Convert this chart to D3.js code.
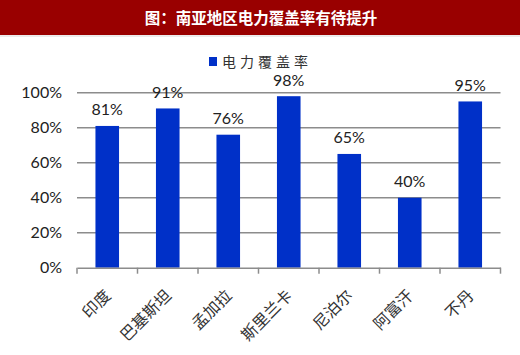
<!DOCTYPE html>
<html><head><meta charset="utf-8">
<script src="https://cdn.jsdelivr.net/npm/d3@7"></script>
<style>body{margin:0;background:#fff;}svg{display:block;}</style>
</head><body>
<script>
const title = "图：南亚地区电力覆盖率有待提升";
const seriesName = "电力覆盖率";
const categories = ["印度","巴基斯坦","孟加拉","斯里兰卡","尼泊尔","阿富汗","不丹"];
const values = [81, 91, 76, 98, 65, 40, 95];
const yTicks = [0, 20, 40, 60, 80, 100];

const W = 520, H = 355;
const svg = d3.select("body").append("svg").attr("width", W).attr("height", H);

svg.append("rect").attr("x",0).attr("y",0).attr("width",W).attr("height",35).attr("fill","#990000");
svg.append("line").attr("x1",0).attr("x2",W).attr("y1",36).attr("y2",36).attr("stroke","#d8d8d8").attr("stroke-width",1);
svg.append("text").attr("x",261).attr("y",24).attr("text-anchor","middle")
  .attr("fill","#fff").attr("font-family","'Noto Sans CJK SC'").attr("font-weight","bold")
  .attr("font-size",15.5).text(title);

const x = d3.scaleBand().domain(categories).range([77, 500.5]).paddingInner(0.61).paddingOuter(0.305);
const y = d3.scaleLinear().domain([0,100]).range([267.7, 92.7]);

const g = svg.append("g");
// gridlines
g.selectAll("line.grid").data(yTicks.filter(d=>d>0)).join("line")
  .attr("x1",77).attr("x2",500.5).attr("y1",d=>y(d)).attr("y2",d=>y(d))
  .attr("stroke","#8c8c8c").attr("stroke-width",1.5);

// y labels
g.selectAll("text.yl").data(yTicks).join("text")
  .attr("x",62).attr("y",d=>y(d)+5.5).attr("text-anchor","end")
  .attr("font-family","Lato, 'Open Sans', sans-serif").attr("font-size",16).attr("fill","#222")
  .text(d=>d+"%");

// bars
g.selectAll("rect.bar").data(values).join("rect")
  .attr("x",(d,i)=>x(categories[i])).attr("width",x.bandwidth())
  .attr("y",d=>y(d)).attr("height",d=>y(0)-y(d)).attr("fill","#0030c8");

// data labels
g.selectAll("text.dl").data(values).join("text")
  .attr("x",(d,i)=>x(categories[i])+x.bandwidth()/2).attr("y",d=>y(d)-10.5)
  .attr("text-anchor","middle").attr("font-family","Lato, 'Open Sans', sans-serif")
  .attr("font-size",16).attr("fill","#222").text(d=>d+"%");

// x axis
const xa = d3.axisBottom(x).tickSize(0).tickFormat("");
const axG = svg.append("g").attr("transform",`translate(0,${y(0)})`).call(xa);
axG.select(".domain").attr("stroke","#8c8c8c").attr("stroke-width",1.5);
const step = x.step();
const bounds = d3.range(categories.length+1).map(i=>77+i*step);
axG.selectAll("line.tk").data(bounds).join("line")
  .attr("x1",d=>d).attr("x2",d=>d).attr("y1",0).attr("y2",6)
  .attr("stroke","#8c8c8c").attr("stroke-width",1.5);

// x labels
svg.selectAll("text.xl").data(categories).join("text")
  .attr("transform",d=>`translate(${x(d)+x.bandwidth()/2+4.5},${y(0)+29}) rotate(-45)`)
  .attr("text-anchor","end").attr("font-family","'Noto Sans CJK SC'")
  .attr("font-size",16).attr("fill","#333").text(d=>d);

// legend
svg.append("rect").attr("x",209).attr("y",57).attr("width",8).attr("height",9).attr("fill","#0030c8");
svg.append("text").attr("x",222).attr("y",66.5).attr("font-family","'Noto Sans CJK SC'")
  .attr("font-size",14).attr("letter-spacing",4).attr("fill","#333").text(seriesName);
</script>
</body></html>
